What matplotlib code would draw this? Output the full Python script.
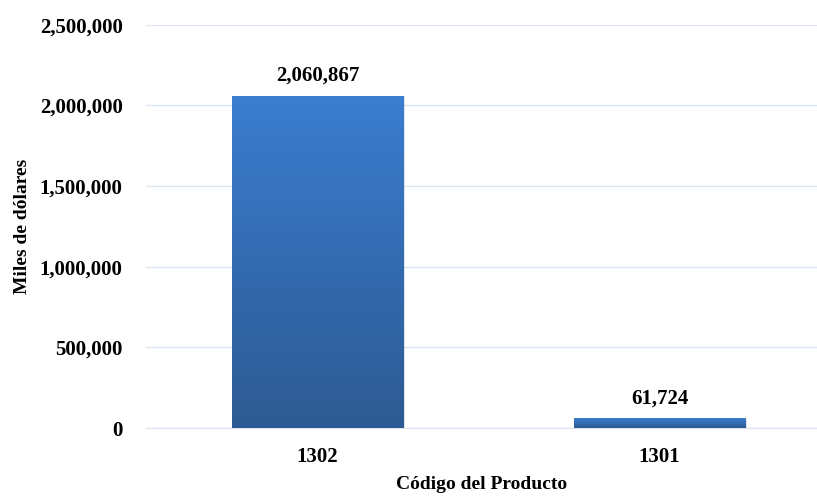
import numpy as np
import matplotlib.pyplot as plt
from matplotlib.colors import LinearSegmentedColormap
from matplotlib.ticker import FuncFormatter

# Valores de exportación por código de producto
codigos = ['1302', '1301']
valores = [2060867, 61724]

plt.rcParams['font.family'] = ['Liberation Serif', 'DejaVu Serif']
plt.rcParams['font.weight'] = 'bold'

fig = plt.figure(figsize=(8.17, 4.96), dpi=100)
ax = fig.add_axes([0.179, 0.137, 0.821, 0.813])

x = np.arange(len(codigos))
barras = ax.bar(x, valores, width=0.5, color='none', zorder=3)

# Degradado vertical dentro de cada barra
cmap = LinearSegmentedColormap.from_list('azul', ['#2d5a92', '#3b7dd0'])
grad = np.linspace(0, 1, 256).reshape(-1, 1)
for b in barras:
    x0, y0 = b.get_x(), b.get_y()
    w, h = b.get_width(), b.get_height()
    # sombra suave
    ax.bar(x0 + w / 2 + 0.006, h, width=w, bottom=-8000, color='#c8c8c8',
           alpha=0.5, zorder=2)
    im = ax.imshow(grad, cmap=cmap, aspect='auto', origin='lower',
                   extent=[x0, x0 + w, y0, y0 + h], zorder=3)
    im.set_clip_path(b)

for xi, v in zip(x, valores):
    ax.text(xi, v + 60000, f'{v:,}', ha='center', va='bottom',
            fontsize=15, fontweight='bold')

ax.set_xlim(-0.5, 1.46)
ax.set_ylim(0, 2500000)
ax.set_yticks(np.arange(0, 2500001, 500000))
ax.yaxis.set_major_formatter(FuncFormatter(lambda v, p: f'{int(v):,}'))
ax.set_xticks(x)
ax.set_xticklabels(codigos)
ax.tick_params(axis='both', length=0, labelsize=15)
ax.tick_params(axis='y', pad=17)
ax.tick_params(axis='x', pad=14)

ax.grid(axis='y', color='#dce6f2', linewidth=1, zorder=0)
ax.set_axisbelow(True)
for s in ['top', 'right', 'left']:
    ax.spines[s].set_visible(False)
ax.spines['bottom'].set_color('#dce6f2')

ax.set_ylabel('Miles de dólares', fontsize=14, fontweight='bold')
ax.yaxis.set_label_coords(-0.172, 0.5)
ax.set_xlabel('Código del Producto', fontsize=14, fontweight='bold')
ax.xaxis.set_label_coords(0.5, -0.12)

fig.savefig('out.png', dpi=100)
